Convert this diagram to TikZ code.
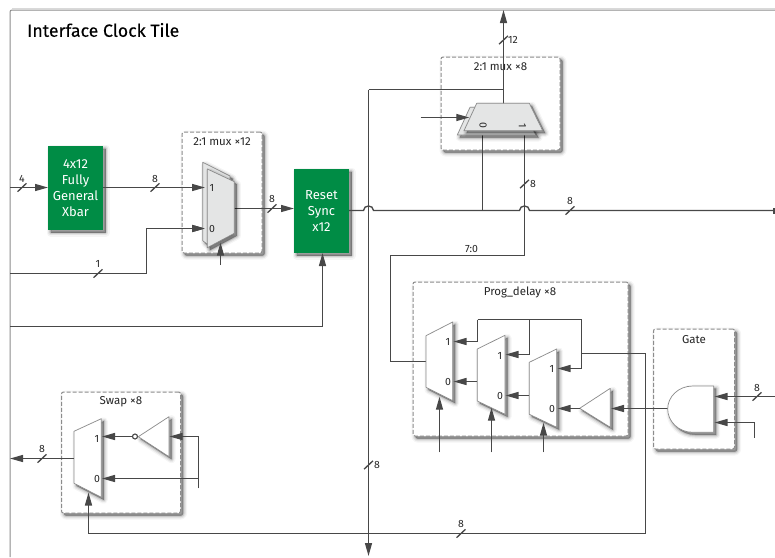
\documentclass[tikz,border=0pt]{standalone}
\usepackage{fontspec}
\setmainfont{Fira Sans}
\usetikzlibrary{arrows.meta,calc}
\definecolor{wirec}{HTML}{484848}
\definecolor{greenc}{HTML}{008C45}
\definecolor{edgec}{HTML}{8C8C8C}
\definecolor{graymux}{HTML}{E4E5E5}
\newcommand{\busmark}[2]{\draw[wire] (#1-4.5,#2+4.2) -- (#1+4.5,#2-4.2);}
\tikzset{
  softshadow/.style={
    preaction={solid,draw=black,fill=black,opacity=.04,line width=8pt,line join=round,transform canvas={xshift=2.5pt,yshift=-2.5pt}},
    preaction={solid,draw=black,fill=black,opacity=.07,line width=5.5pt,line join=round,transform canvas={xshift=2.5pt,yshift=-2.5pt}},
    preaction={solid,draw=black,fill=black,opacity=.1,line width=3pt,line join=round,transform canvas={xshift=2.5pt,yshift=-2.5pt}},
    preaction={solid,draw=black,fill=black,opacity=.14,line width=1pt,line join=round,transform canvas={xshift=2.5pt,yshift=-2.5pt}}},
  wire/.style={draw=wirec,line width=1.35pt},
  awire/.style={wire,-{Triangle[length=13pt,width=7pt,color=wirec]}},
  framec/.style={draw=edgec,line width=1pt,rounded corners=2pt},
  dashbox/.style={draw=edgec,dash pattern=on 4pt off 2pt,line width=1pt,fill=white,rounded corners=2pt,softshadow,inner sep=0pt,outer sep=0pt,anchor=north west},
  greenbox/.style={fill=greenc,softshadow,inner sep=0pt,outer sep=0pt,anchor=north west,text=white,align=center,font=\fontsize{13}{16}\selectfont},
  muxw/.style={draw=edgec,line width=.7pt,fill=white,softshadow,line join=round},
  muxg/.style={draw=edgec,line width=.7pt,fill=graymux,softshadow,line join=round},
  lab/.style={text=black!85,font=\fontsize{10.5}{12}\selectfont,inner sep=0pt},
  boxtitle/.style={text=black!85,font=\fontsize{11.5}{12}\selectfont,inner sep=0pt},
}
\begin{document}
\begin{tikzpicture}[x=1pt,y=-1pt]
\useasboundingbox (0,0) rectangle (775,557);
% frame
\draw[framec] (10,557) -- (10,10) -- (775,10);
\draw[draw=black,opacity=.15,line width=1pt] (12,8.8) -- (775,8.8);
\node[anchor=west,inner sep=0pt,font=\fontsize{17.7}{20}\selectfont\addfontfeature{FakeBold=0.25}] (title) at (27,30) {Interface Clock Tile};
% dashed boxes
\node[dashbox,minimum width=80pt,minimum height=121pt] (bmuxa) at (182,132) {};
\node[dashbox,minimum width=119pt,minimum height=93pt] (bmuxb) at (441,57) {};
\node[dashbox,minimum width=215pt,minimum height=154pt] (bprog) at (413,282) {};
\node[dashbox,minimum width=81pt,minimum height=120pt] (bgate) at (653.5,329) {};
\node[dashbox,minimum width=119pt,minimum height=121pt] (bswap) at (61.5,392) {};
\node[boxtitle] (tmuxa) at (222,142) {2:1 mux ×12};
\node[boxtitle] (tmuxb) at (500.5,66.5) {2:1 mux ×8};
\node[boxtitle] (tprog) at (520,292) {Prog\_delay ×8};
\node[boxtitle] (tgate) at (694,340) {Gate};
\node[boxtitle] (tswap) at (121,401.7) {Swap ×8};
% green boxes
\node[greenbox,minimum width=55pt,minimum height=84pt] (xbar) at (48,146) {4x12\\Fully\\General\\Xbar};
\node[greenbox,minimum width=55pt,minimum height=84pt] (reset) at (294,169) {Reset\\Sync\\x12};
% named points
\coordinate (in4) at (10,187.5);
\coordinate (xin) at (48,187.5);
\coordinate (m1a) at (205,187.5);
\coordinate (xout) at (103,187.5);
\coordinate (in1) at (10,273.5);
\coordinate (c1a) at (146.5,273.5);
\coordinate (c1b) at (146.5,228.5);
\coordinate (m1b) at (205,228.5);
\coordinate (s1a) at (220.5,265);
\coordinate (s1b) at (220.5,242.5);
\coordinate (m1o) at (234.3,208.5);
\coordinate (rin) at (294,208.5);
\coordinate (in2) at (10,326.5);
\coordinate (c2) at (322.5,326.5);
\coordinate (rbot) at (322.5,253);
\coordinate (rout) at (349,210.5);
\coordinate (h1a) at (363.5,210.5);
\coordinate (h1b) at (373.5,210.5);
\coordinate (h2a) at (519.5,210.5);
\coordinate (h2b) at (529.5,210.5);
\coordinate (tap0) at (482.5,210.5);
\coordinate (endr) at (775,210.5);
\coordinate (stub) at (773,210.5);
\coordinate (vtop) at (368.5,89.5);
\coordinate (vbot) at (368.5,556);
\coordinate (vjoin) at (503.5,89.5);
\coordinate (m2o) at (503.5,104);
\coordinate (top) at (503.5,10);
\coordinate (m2s0) at (420.5,117.5);
\coordinate (m2s1) at (469.3,117.5);
\coordinate (m20) at (482.5,131);
\coordinate (m21) at (524.5,131);
\coordinate (c3) at (524.5,255.5);
\coordinate (c4) at (390.5,255.5);
\coordinate (c5) at (390.5,361.5);
\coordinate (p1o) at (426,361.5);
% wires under muxes
\draw[awire] (in4) -- (xin);
\draw[awire] (in1) -- (c1a) -- (c1b) -- (m1b);
\draw[awire] (m1o) -- (rin);
\draw[awire] (in2) -- (c2) -- (rbot);
\draw[wire] (rout) -- (h1a) .. controls +(0,-6) and +(0,-6) .. (h1b) -- (h2a) .. controls +(0,-6) and +(0,-6) .. (h2b) -- (endr);
\draw[wirec,line width=6pt] (stub) -- (endr);
\draw[awire] (vtop) -- (vbot);
\draw[wire] (vtop) -- (vjoin);
\draw[awire] (m2o) -- (top);
\draw[wire] (tap0) -- (m20);
\draw[wire] (m21) -- (c3) -- (c4) -- (c5) -- (p1o);
% muxes: select-side shapes
\path[muxg] (202.7,162.3) -- (230,176) -- (230,232) -- (207,244) -- (202.7,240.7) -- cycle;
\path[muxg] (207.3,169) -- (234.3,181.7) -- (234.3,233.3) -- (207.3,247.7) -- cycle;
\node[lab] (l1a) at (212,188) {1};
\node[lab] (l1b) at (212,229) {0};
\draw[awire] (xout) -- (m1a);
\draw[awire] (c1b) -- (m1b);
\draw[awire] (s1a) -- (s1b);
\path[muxg] (470,107.3) -- (520,107.3) -- (536,135) -- (457.3,135) -- cycle;
\path[muxg] (476.7,103.3) -- (529.3,103.3) -- (542.7,130.7) -- (464,130.7) -- cycle;
\draw[awire] (m2s0) -- (m2s1);
\node[lab,rotate=-90] (l2a) at (483,125.7) {0};
\node[lab,rotate=-90] (l2b) at (522.5,125.7) {1};
% Prog delay
\path[muxw] (426,335.7) -- (452.7,322) -- (452.7,400.7) -- (426,387.3) -- cycle;
\path[muxw] (477.3,349) -- (505,335.3) -- (505,414.3) -- (477.3,401) -- cycle;
\path[muxw] (529.3,362.3) -- (556.7,349) -- (556.7,427.3) -- (529.3,414.3) -- cycle;
\path[muxw] (579.7,408.3) -- (610.3,388.3) -- (610.3,427.3) -- cycle;
\node[lab] (lp1a) at (448,342) {1};
\node[lab] (lp1b) at (448,382) {0};
\node[lab] (lp2a) at (500,355.5) {1};
\node[lab] (lp2b) at (500,395.5) {0};
\node[lab] (lp3a) at (552,369) {1};
\node[lab] (lp3b) at (552,408.5) {0};
\coordinate (p2o) at (477.3,381.5);
\coordinate (p1b) at (453.5,381.5);
\coordinate (p3o) at (529.3,395.5);
\coordinate (p2b) at (505.5,395.5);
\coordinate (bufo) at (579.7,408.5);
\coordinate (p3b) at (557.5,408.5);
\coordinate (bufi) at (611,408.5);
\coordinate (ando) at (667.7,408.5);
\coordinate (fba) at (477.5,341.5);
\coordinate (fbat) at (477.5,319.5);
\coordinate (p1a) at (453.5,341.5);
\coordinate (fbb) at (529.5,354.5);
\coordinate (fbbt) at (529.5,319.5);
\coordinate (p2a) at (505.5,354.5);
\coordinate (fbc) at (581.5,368.5);
\coordinate (fbct) at (581.5,319.5);
\coordinate (p3a) at (557.5,368.5);
\coordinate (fbd) at (581.5,353.5);
\coordinate (c6) at (645.5,353.5);
\coordinate (c7) at (645.5,533.5);
\coordinate (c8) at (88.5,533.5);
\coordinate (swsel) at (88.5,492.5);
\draw[awire] (p2o) -- (p1b);
\draw[awire] (p3o) -- (p2b);
\draw[awire] (bufo) -- (p3b);
\draw[awire] (ando) -- (bufi);
\draw[wire] (fbat) -- (fbct);
\draw[awire] (fbat) -- (fba) -- (p1a);
\draw[awire] (fbbt) -- (fbb) -- (p2a);
\draw[awire] (fbct) -- (fbc) -- (p3a);
\draw[awire] (fbd) -- (c6) -- (c7) -- (c8) -- (swsel);
\coordinate (s1) at (439.5,452.3);
\coordinate (s1t) at (439.5,396.7);
\coordinate (s2) at (491.5,452.3);
\coordinate (s2t) at (491.5,407.7);
\coordinate (s3) at (543.5,452.3);
\coordinate (s3t) at (543.5,422.7);
\draw[awire] (s1) -- (s1t);
\draw[awire] (s2) -- (s2t);
\draw[awire] (s3) -- (s3t);
% Gate
\path[muxw] (713.7,386) -- (693,386) .. controls (678,386) and (667.7,397) .. (667.7,409) .. controls (667.7,421) and (678,432.3) .. (693,432.3) -- (713.7,432.3) -- cycle;
\coordinate (gi1) at (775,396.5);
\coordinate (ga1) at (714.5,396.5);
\coordinate (gi2) at (754.5,437.7);
\coordinate (gc2) at (754.5,422.5);
\coordinate (ga2) at (714.5,422.5);
\draw[awire] (gi1) -- (ga1);
\draw[awire] (gi2) -- (gc2) -- (ga2);
% Swap
\path[muxw] (74,431.3) -- (101.3,418.7) -- (101.3,497.3) -- (74,483.3) -- cycle;
\path[muxw] (138.3,436.7) -- (169,416.7) -- (169,456.7) -- cycle;
\node[lab] (ls1) at (97,439) {1};
\node[lab] (ls0) at (97,478.5) {0};
\coordinate (so) at (74,458.5);
\coordinate (sleft) at (10,458.5);
\coordinate (bub) at (132.5,436.5);
\coordinate (sa) at (102,436.5);
\coordinate (sbot) at (198.5,488.3);
\coordinate (sc1) at (198.5,436.5);
\coordinate (sb1) at (169.5,436.5);
\coordinate (sc0) at (198.5,478.5);
\coordinate (sb0) at (102,478.5);
\draw[awire] (so) -- (sleft);
\draw[awire] (bub) -- (sa);
\node[circle,draw=wirec,line width=1.1pt,fill=white,minimum size=5pt,inner sep=0pt] (bubble) at (135,436.5) {};
\draw[awire] (sbot) -- (sc1) -- (sb1);
\draw[awire] (sc0) -- (sb0);
% bus marks and labels
\busmark{22}{187.5}\node[lab] (n1) at (22,178.5) {4};
\busmark{155}{187.5}\node[lab] (n2) at (155,178.5) {8};
\busmark{98}{273.5}\node[lab] (n3) at (98,264) {1};
\busmark{272}{208.5}\node[lab] (n4) at (272,198.5) {8};
\busmark{570}{210.5}\node[lab] (n5) at (570,201) {8};
\busmark{503.5}{40}\node[lab] (n6) at (513,39.5) {12};
\busmark{524.5}{184}\node[lab] (n7) at (533,184) {8};
\busmark{368.5}{465}\node[lab] (n8) at (377,465) {8};
\busmark{461}{533.5}\node[lab] (n9) at (461,524) {8};
\busmark{757}{396.5}\node[lab] (n10) at (757,387.5) {8};
\busmark{42}{458.5}\node[lab] (n11) at (42,448.5) {8};
\node[lab] (n12) at (471.5,248.5) {7:0};
\end{tikzpicture}
\end{document}
